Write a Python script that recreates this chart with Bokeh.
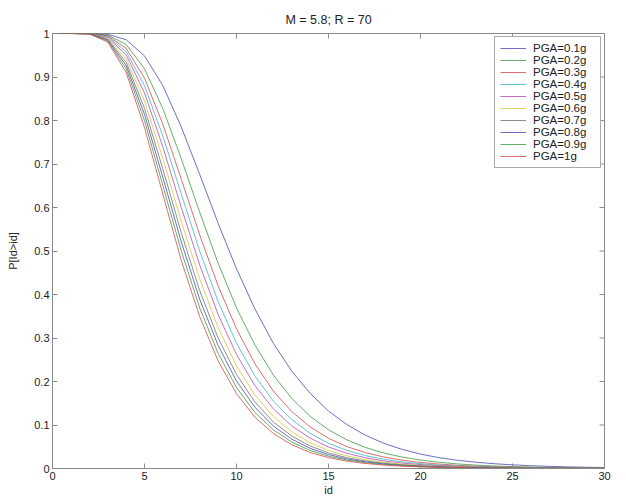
from bokeh.plotting import figure
from bokeh.models import FixedTicker, Legend, LegendItem, Range1d
from bokeh.embed import file_html
from bokeh.resources import INLINE

title_text = "M = 5.8; R = 70"
x_label = "id"
y_label = "P[Id>id]"

id_values = list(range(0, 31))

pga_labels = ["PGA=0.1g", "PGA=0.2g", "PGA=0.3g", "PGA=0.4g", "PGA=0.5g",
              "PGA=0.6g", "PGA=0.7g", "PGA=0.8g", "PGA=0.9g", "PGA=1g"]

p_01 = [1.0, 1.0, 1.0, 0.9982, 0.9857, 0.9486, 0.880, 0.785, 0.676, 0.564, 0.459,
        0.367, 0.288, 0.224, 0.173, 0.132, 0.101, 0.0766, 0.058, 0.044, 0.033,
        0.025, 0.019, 0.0145, 0.011, 0.0084, 0.0064, 0.0049, 0.0037, 0.0029, 0.0022]
p_02 = [1.0, 1.0, 0.9999, 0.9963, 0.9748, 0.919, 0.827, 0.712, 0.589, 0.472, 0.369,
        0.284, 0.215, 0.161, 0.120, 0.089, 0.0657, 0.0484, 0.0357, 0.0263, 0.0194,
        0.0143, 0.0106, 0.0078, 0.0058, 0.0043, 0.0032, 0.0024, 0.0018, 0.0014, 0.0010]
p_03 = [1.0, 1.0, 0.9998, 0.9945, 0.966, 0.8975, 0.791, 0.665, 0.537, 0.420, 0.321,
        0.241, 0.178, 0.131, 0.0956, 0.0695, 0.0504, 0.0366, 0.0265, 0.0192, 0.0140,
        0.0102, 0.0074, 0.0054, 0.0040, 0.0029, 0.0022, 0.0016, 0.0012, 0.0009, 0.0007]
p_04 = [1.0, 1.0, 0.9997, 0.9929, 0.9584, 0.880, 0.764, 0.631, 0.5, 0.384, 0.288,
        0.213, 0.155, 0.1124, 0.0809, 0.058, 0.0416, 0.0297, 0.0213, 0.0153, 0.0110,
        0.0079, 0.0057, 0.0041, 0.0030, 0.0022, 0.0016, 0.0012, 0.0009, 0.0006, 0.0005]
p_05 = [1.0, 1.0, 0.9996, 0.9912, 0.9509, 0.8634, 0.739, 0.600, 0.468, 0.354, 0.262,
        0.1907, 0.1372, 0.098, 0.0697, 0.0494, 0.035, 0.0248, 0.0176, 0.0125, 0.0089,
        0.0064, 0.0046, 0.0033, 0.0024, 0.0017, 0.0012, 0.0009, 0.0007, 0.0005, 0.0004]
p_06 = [1.0, 1.0, 0.9995, 0.989, 0.942, 0.845, 0.712, 0.568, 0.436, 0.324, 0.236,
        0.169, 0.120, 0.0846, 0.0593, 0.0416, 0.0291, 0.0204, 0.0143, 0.0101, 0.0071,
        0.0050, 0.0036, 0.0025, 0.0018, 0.0013, 0.0009, 0.0007, 0.0005, 0.0004, 0.0003]
p_07 = [1.0, 1.0, 0.9994, 0.9869, 0.9337, 0.828, 0.688, 0.542, 0.409, 0.300, 0.216,
        0.153, 0.107, 0.0746, 0.0518, 0.0359, 0.0249, 0.0173, 0.0120, 0.0084, 0.0059,
        0.0041, 0.0029, 0.0021, 0.0015, 0.0010, 0.0007, 0.0005, 0.0004, 0.0003, 0.0002]
p_08 = [1.0, 1.0, 0.9993, 0.985, 0.9267, 0.814, 0.669, 0.521, 0.389, 0.283, 0.201,
        0.141, 0.0978, 0.0675, 0.0465, 0.032, 0.022, 0.0152, 0.0105, 0.0073, 0.0051,
        0.0035, 0.0025, 0.0017, 0.0012, 0.0009, 0.0006, 0.0005, 0.0003, 0.0002, 0.0002]
p_09 = [1.0, 1.0, 0.9991, 0.983, 0.919, 0.800, 0.650, 0.5, 0.369, 0.265, 0.186,
        0.129, 0.089, 0.0609, 0.0416, 0.0284, 0.0194, 0.0133, 0.0091, 0.0063, 0.0043,
        0.0030, 0.0021, 0.0015, 0.0010, 0.0007, 0.0005, 0.0004, 0.0003, 0.0002, 0.0001]
p_10 = [1.0, 1.0, 0.999, 0.9805, 0.9107, 0.784, 0.630, 0.478, 0.349, 0.2475, 0.172,
        0.118, 0.0805, 0.0546, 0.037, 0.025, 0.017, 0.0115, 0.0079, 0.0054, 0.0037,
        0.0026, 0.0018, 0.0012, 0.0009, 0.0006, 0.0004, 0.0003, 0.0002, 0.0002, 0.0001]

series = [p_01, p_02, p_03, p_04, p_05, p_06, p_07, p_08, p_09, p_10]

x_ticks = [0, 5, 10, 15, 20, 25, 30]
y_ticks = [0, 0.1, 0.2, 0.3, 0.4, 0.5, 0.6, 0.7, 0.8, 0.9, 1]
y_tick_labels = ["0", "0.1", "0.2", "0.3", "0.4", "0.5", "0.6", "0.7", "0.8", "0.9", "1"]

colors = ["#4a4ab8", "#3f9a3f", "#d84848", "#38b8c8", "#b848b8",
          "#d0c838", "#707070", "#4a4ab8", "#3f9a3f", "#d84848"]

FONT = "Liberation Sans"
AX = "#8a8a8a"
X_MIN, X_MAX, Y_MIN, Y_MAX = 0, 30, 0, 1

p = figure(width=626, height=503, output_backend="svg", toolbar_location=None,
           x_range=Range1d(X_MIN, X_MAX), y_range=Range1d(Y_MIN, Y_MAX),
           min_border_left=52, min_border_right=22, min_border_top=33,
           min_border_bottom=35)
p.title.text = title_text
p.title.align = "center"
p.title.text_font = FONT
p.title.text_font_size = "12.5px"
p.title.text_font_style = "normal"
p.title.text_color = "#222222"
p.title.standoff = 14

p.xgrid.visible = False
p.ygrid.visible = False
p.outline_line_color = AX
p.background_fill_color = "white"
p.border_fill_color = "white"

for ax in (p.xaxis[0], p.yaxis[0]):
    ax.axis_line_color = AX
    ax.major_tick_line_color = AX
    ax.minor_tick_line_color = None
    ax.major_tick_in = 5
    ax.major_tick_out = 0
    ax.major_label_text_font = FONT
    ax.major_label_text_font_size = "11px"
    ax.major_label_text_color = "#222222"
    ax.major_label_standoff = 3
    ax.axis_label_text_font = FONT
    ax.axis_label_text_font_size = "11px"
    ax.axis_label_text_font_style = "normal"
    ax.axis_label_text_color = "#222222"

p.xaxis.ticker = FixedTicker(ticks=x_ticks)
p.yaxis.ticker = FixedTicker(ticks=y_ticks)
p.yaxis.major_label_overrides = {t: s for t, s in zip(y_ticks, y_tick_labels)}
p.xaxis.axis_label = x_label
p.yaxis.axis_label = y_label
p.xaxis.axis_label_standoff = 1
p.yaxis.axis_label_standoff = 12

# inward tick marks on top and right edges of the box (MATLAB style)
tick_dx = 5 * (X_MAX - X_MIN) / 552
tick_dy = 5 * (Y_MAX - Y_MIN) / 435
p.segment(x0=x_ticks, y0=[Y_MAX] * len(x_ticks), x1=x_ticks,
          y1=[Y_MAX - tick_dy] * len(x_ticks), line_color=AX, line_width=1)
p.segment(x0=[X_MAX] * len(y_ticks), y0=y_ticks, x1=[X_MAX - tick_dx] * len(y_ticks),
          y1=y_ticks, line_color=AX, line_width=1)

items = []
for lab, ys, c in zip(pga_labels, series, colors):
    r = p.line(id_values, ys, line_color=c, line_width=1, line_alpha=0.8)
    items.append(LegendItem(label=lab, renderers=[r]))

legend = Legend(items=items, location="top_right")
legend.label_text_font = FONT
legend.label_text_font_size = "11.5px"
legend.label_text_color = "#222222"
legend.glyph_width = 26
legend.glyph_height = 10
legend.label_height = 10
legend.label_width = 62
legend.spacing = 0
legend.padding = 5
legend.margin = 3
legend.border_line_color = "#555555"
legend.background_fill_alpha = 1
legend.label_standoff = 7
p.add_layout(legend)

open("out.html", "w").write(file_html(p, INLINE))
